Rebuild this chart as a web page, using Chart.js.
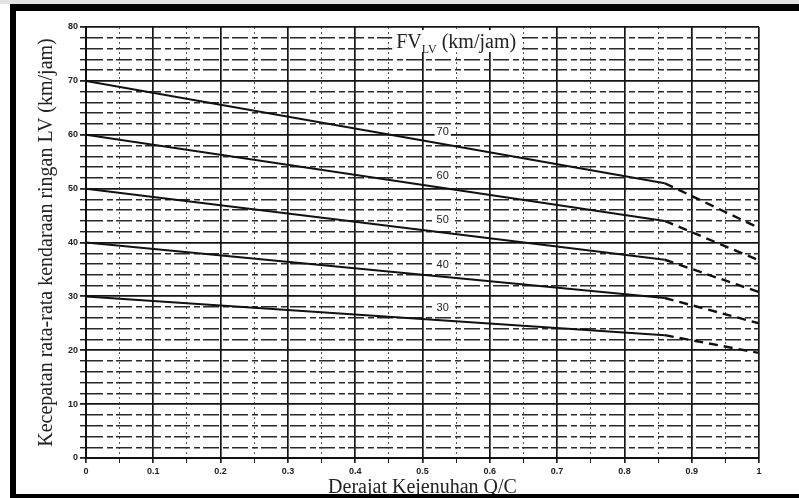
<!DOCTYPE html>
<html>
<head>
<meta charset="utf-8">
<script src="https://cdn.jsdelivr.net/npm/chart.js@4.4.1/dist/chart.umd.min.js"></script>
<style>
  html, body { margin: 0; padding: 0; background: #fff; }
  #wrap { position: relative; width: 799px; height: 498px; overflow: hidden; }
  #chart { position: absolute; left: 0; top: 0; }
  .bar { position: absolute; background: #000; }
</style>
</head>
<body>
<div id="wrap">
  <canvas id="chart" width="799" height="498"></canvas>
  <div class="bar" style="left:0;top:0;width:799px;height:4px;background:#e2e2e2"></div>
  <div class="bar" style="left:10px;top:4px;width:789px;height:7px"></div>
  <div class="bar" style="left:10px;top:4px;width:6px;height:494px"></div>
  <div class="bar" style="left:10px;top:494px;width:789px;height:4px"></div>
</div>
<script>
// degree of saturation Q/C where the solid part ends, then the dashed extension to 1
const qc = [0, 0.86, 1]

// average LV speed for each free-flow speed FV_LV
const fv70 = [70, 51.0, 42.7]
const fv60 = [60, 44.0, 36.7]
const fv50 = [50, 36.8, 30.8]
const fv40 = [40, 29.7, 25.0]
const fv30 = [30, 22.8, 19.5]
const fvNames = ['70', '60', '50', '40', '30']

const xTickLabels = ['0', '0.1', '0.2', '0.3', '0.4', '0.5', '0.6', '0.7', '0.8', '0.9', '1']
const yTickLabels = ['0', '10', '20', '30', '40', '50', '60', '70', '80']

const series = [fv70, fv60, fv50, fv40, fv30]
const INK = '#111'
const SERIF = '"Liberation Serif", "Times New Roman", serif'
const SANS = '"Liberation Sans", Arial, sans-serif'

const curveLabels = {
  id: 'curveLabels',
  afterDatasetsDraw(chart) {
    const { ctx, scales: { x, y } } = chart
    ctx.save()

    // FV number above each curve
    const lx = 0.53
    ctx.font = '11px ' + SANS
    ctx.textAlign = 'center'
    ctx.textBaseline = 'middle'
    series.forEach((s, k) => {
      const t = (lx - qc[0]) / (qc[1] - qc[0])
      const v = s[0] + (s[1] - s[0]) * t
      const px = x.getPixelForValue(lx)
      const py = y.getPixelForValue(v) - 12
      const w = ctx.measureText(fvNames[k]).width
      ctx.fillStyle = '#fff'
      ctx.fillRect(px - w / 2 - 2, py - 5, w + 4, 10)
      ctx.fillStyle = '#222'
      ctx.fillText(fvNames[k], px, py)
    })

    // FV_LV (km/jam) caption
    const cx = x.getPixelForValue(0.55)
    const cy = y.getPixelForValue(77.2)
    const big = '20px ' + SERIF
    const small = '12px ' + SERIF
    ctx.font = big
    const w1 = ctx.measureText('FV').width
    const w3 = ctx.measureText(' (km/jam)').width
    ctx.font = small
    const w2 = ctx.measureText('LV').width
    const total = w1 + w2 + w3
    let sx = cx - total / 2
    ctx.fillStyle = '#fff'
    ctx.fillRect(sx - 4, cy - 12, total + 8, 22)
    ctx.fillStyle = '#222'
    ctx.textAlign = 'left'
    ctx.textBaseline = 'alphabetic'
    ctx.font = big
    ctx.fillText('FV', sx, cy + 6)
    sx += w1
    ctx.font = small
    ctx.fillText('LV', sx, cy + 11)
    sx += w2
    ctx.font = big
    ctx.fillText(' (km/jam)', sx, cy + 6)
    ctx.restore()
  }
}

new Chart(document.getElementById('chart'), {
  type: 'line',
  data: {
    datasets: series.map((s, k) => ({
      label: fvNames[k],
      data: s.map((v, i) => ({ x: qc[i], y: v })),
      borderColor: INK,
      borderWidth: 2,
      pointRadius: 0,
      tension: 0,
      segment: {
        borderDash: c => (c.p0DataIndex >= 1 ? [9, 6] : undefined),
        borderWidth: c => (c.p0DataIndex >= 1 ? 2.4 : undefined),
      },
    })),
  },
  options: {
    responsive: false,
    animation: false,
    layout: { padding: { left: 32, right: 40, top: 27, bottom: 0 } },
    plugins: {
      legend: { display: false },
      tooltip: { enabled: false },
    },
    scales: {
      x: {
        type: 'linear',
        min: 0,
        max: 1,
        afterFit: s => { s.height = 40 },
        ticks: {
          stepSize: 0.05,
          autoSkip: false,
          maxRotation: 0,
          padding: 3,
          color: '#222',
          font: { size: 9, weight: 'bold', family: SANS },
          callback: (v, i) => (i % 2 === 0 ? xTickLabels[i / 2] : ''),
        },
        grid: {
          color: c => (c.tick && c.index % 2 === 0 ? '#151515' : '#555'),
          lineWidth: c => (c.tick && c.index % 2 === 0 ? 1.7 : 1),
          tickLength: 5,
          tickColor: '#222',
        },
        border: {
          color: '#111',
          width: 2,
          dash: c => (c.tick && c.index % 2 !== 0 ? [2, 3] : []),
        },
        title: {
          display: true,
          text: 'Derajat Kejenuhan Q/C',
          color: '#222',
          padding: { top: 0, bottom: 0 },
          font: { size: 20, family: SERIF, lineHeight: 1 },
        },
      },
      y: {
        min: 0,
        max: 80,
        afterFit: s => { s.width = 54 },
        ticks: {
          stepSize: 2,
          autoSkip: false,
          padding: 2,
          color: '#222',
          font: { size: 9, weight: 'bold', family: SANS },
          callback: (v, i) => (i % 5 === 0 ? yTickLabels[i / 5] : ''),
        },
        grid: {
          color: c => (c.tick && c.index % 5 === 0 ? '#151515' : '#2a2a2a'),
          lineWidth: c => (c.tick && c.index % 5 === 0 ? 1.8 : 1.4),
          tickLength: 6,
          tickColor: '#222',
        },
        border: {
          color: '#111',
          width: 2,
          dash: c => (c.tick && c.index % 5 !== 0 ? [16, 4, 6, 3] : []),
        },
        title: {
          display: true,
          text: 'Kecepatan rata-rata kendaraan ringan LV (km/jam)',
          color: '#222',
          padding: { top: 3, bottom: 0 },
          font: { size: 20, family: SERIF },
        },
      },
    },
  },
  plugins: [curveLabels],
})
</script>
</body>
</html>
